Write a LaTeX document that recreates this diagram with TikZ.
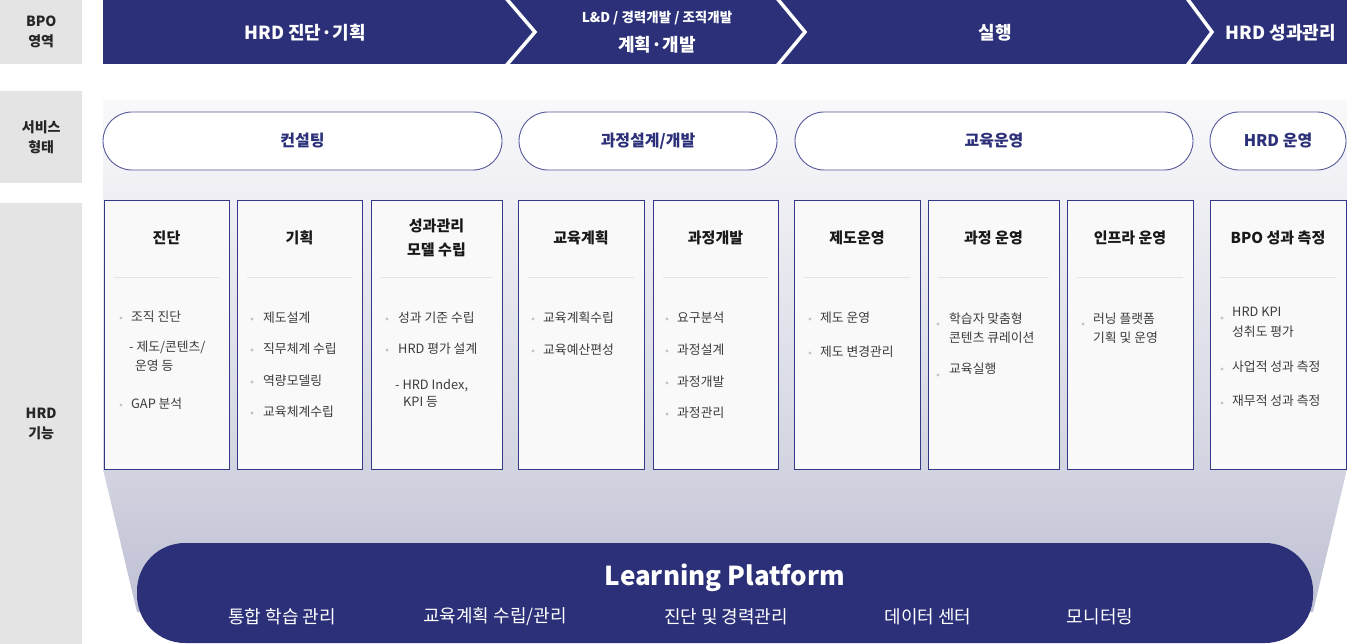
\documentclass[tikz,border=0pt]{standalone}
\usepackage{fontspec}
\setmainfont{Noto Sans CJK KR}
\usepackage{xcolor}
\usetikzlibrary{positioning,calc}
\definecolor{hrdNavy}{HTML}{2B3078}
\definecolor{hrdNavyLine}{HTML}{333985}
\definecolor{hrdPillLine}{HTML}{555A9C}
\definecolor{hrdSideGrey}{HTML}{E4E4E4}
\definecolor{hrdBoxFill}{HTML}{F9F9F9}
\definecolor{hrdRule}{HTML}{E4E4E4}
\definecolor{hrdItemText}{HTML}{3C3C3C}
\definecolor{hrdDot}{HTML}{C4C4C4}
\definecolor{hrdPanelTop}{HTML}{F9F9FB}
\definecolor{hrdPanelMid}{HTML}{D2D4E1}
\definecolor{hrdPanelBot}{HTML}{BEC0D4}
\tikzset{
  side label/.style={
    anchor=north west, fill=hrdSideGrey, minimum width=82pt,
    align=center, font=\fontsize{14}{20}\selectfont\bfseries,
    text=black!85, inner sep=0pt,
  },
  band text/.style={
    font=\fontsize{18}{20}\selectfont\bfseries, text=white, inner sep=0pt,
  },
  chevron gap/.style={
    draw=white, line width=3.5pt, line join=miter,
  },
  service pill/.style={
    draw=hrdPillLine, fill=white, line width=0.9pt,
    rounded corners=29pt, minimum height=58pt, inner sep=0pt,
    font=\fontsize{16}{18}\selectfont\bfseries, text=hrdNavy,
  },
  func box/.style={
    draw=hrdNavyLine, fill=hrdBoxFill, line width=0.9pt,
    minimum height=269pt, inner sep=0pt,
  },
  func title/.style={
    align=center, font=\fontsize{15}{24}\selectfont\bfseries,
    text=black!90, inner sep=0pt,
  },
  func rule/.style={
    draw=hrdRule, line width=0.9pt,
  },
  func item/.style={
    anchor=west, inner sep=0pt, text height=9.5pt, text depth=2.5pt,
    font=\fontsize{12.8}{15}\selectfont, text=hrdItemText,
  },
  func dot/.style={
    circle, fill=hrdDot, minimum size=3.2pt, inner sep=0pt,
  },
  platform/.style={
    fill=hrdNavy, rounded corners=48pt, minimum width=1176pt,
    minimum height=100pt, inner sep=0pt,
  },
  platform title/.style={
    font=\fontsize{26}{30}\selectfont\bfseries, text=white, inner sep=0pt,
  },
  platform item/.style={
    font=\fontsize{18}{20}\selectfont, text=white, inner sep=0pt,
  },
}

\begin{document}
\begin{tikzpicture}[x=1pt,y=-1pt]
\useasboundingbox (0,0) rectangle (1347,644);

% Row labels on the left
\foreach \nm/\yt/\hh/\txt in {bpo/0/64/{BPO\\영역}, svc/91/92/{서비스\\형태},
                              fn/203/441/{HRD\\기능}} {
  \node[side label, minimum height=\hh pt] (side-\nm) at (0,\yt) {\txt};
}

% BPO band with chevron cuts
\fill[hrdNavy] (103,0) rectangle (1347,64);
\foreach \xa/\xb in {505/535, 776/805, 1186/1212} {
  \draw[chevron gap] (\xa,-3) -- (\xb,32) -- (\xa,67);
}
\node[band text] (band-diag) at (305,33) {HRD 진단·기획};
\node[band text, font=\fontsize{13.5}{16}\selectfont\bfseries] (band-ld) at (657,18)
  {L\&D / 경력개발 / 조직개발};
\node[band text] (band-plan) at (657,45) {계획·개발};
\node[band text] (band-run) at (995,33) {실행};
\node[band text] (band-perf) at (1281,33) {HRD 성과관리};

% Background panel and funnel down to the platform
\shade[top color=hrdPanelTop, bottom color=hrdPanelMid]
  (103,101) rectangle (1347,470);
\shade[top color=hrdPanelMid, bottom color=hrdPanelBot]
  (103,469) -- (1347,469) -- (1313,612) -- (137,612) -- cycle;

% Service pills
\foreach \nm/\xa/\xb/\txt in {cons/103/502/컨설팅, design/519/777/{과정설계/개발},
                              ops/795/1193/교육운영, hrdops/1210/1346/{HRD 운영}} {
  \pgfmathsetmacro\pw{\xb-\xa}
  \pgfmathsetmacro\pc{(\xa+\xb)/2}
  \node[service pill, minimum width=\pw pt] (pill-\nm) at (\pc,141) {\txt};
}

% HRD function boxes (title + rule)
\foreach \nm/\xa/\xb/\ttl in {diag/104/229/진단, plan/237/362/기획,
    model/371/502/{성과관리\\모델 수립}, eduplan/518/644/교육계획,
    crsdev/653/778/과정개발, sysops/794/920/제도운영, crsops/928/1059/{과정 운영},
    infra/1067/1193/{인프라 운영}, bpo/1210/1346/{BPO 성과 측정}} {
  \pgfmathsetmacro\pw{\xb-\xa}
  \pgfmathsetmacro\pc{(\xa+\xb)/2}
  \node[func box, minimum width=\pw pt] (box-\nm) at (\pc,334.5) {};
  \node[func title] (title-\nm) at (\pc,238) {\ttl};
  \draw[func rule] ([xshift=10pt,yshift=-78pt]box-\nm.north west)
    -- ([xshift=-10pt,yshift=-78pt]box-\nm.north east);
}

% Item lines
\foreach \x/\y/\txt [count=\i] in {
    131/318/조직 진단, 129/348/{- 제도/콘텐츠/}, 135/367/운영 등, 131/405/GAP 분석,
    263/319/제도설계, 263/350/직무체계 수립, 263/382/역량모델링, 263/413/교육체계수립,
    398/319/성과 기준 수립, 398/350/HRD 평가 설계, 395/386/{- HRD Index,}, 403/403/KPI 등,
    543/319/교육계획수립, 543/351/교육예산편성,
    677/319/요구분석, 677/351/과정설계, 677/383/과정개발, 677/414/과정관리,
    820/319/제도 운영, 820/353/제도 변경관리,
    949/320/학습자 맞춤형, 949/339/콘텐츠 큐레이션, 949/370/교육실행,
    1093/320/러닝 플랫폼, 1093/339/기획 및 운영,
    1232/313/HRD KPI, 1232/333/성취도 평가, 1232/368/사업적 성과 측정,
    1232/402/재무적 성과 측정} {
  \node[func item] (item\i) at (\x,\y) {\txt};
}
% Bullet dots
\foreach \x/\y [count=\i] in {121/318, 121/405, 252/319, 252/350, 252/382, 252/413,
    387/319, 387/350, 533/319, 533/351, 667/319, 667/351, 667/383, 667/414,
    810/319, 810/353, 938/324, 938/375, 1083/324, 1222/318, 1222/369, 1222/403} {
  \node[func dot] (dot\i) at (\x,\y) {};
}

% Learning platform
\node[platform] (platform) at (725,593) {};
\node[platform title] (lp-title) at (725,578) {Learning Platform};
\foreach \x/\txt [count=\i] in {282/통합 학습 관리, 495/{교육계획 수립/관리},
                                726/진단 및 경력관리, 928/데이터 센터, 1100/모니터링} {
  \node[platform item] (lp-item\i) at (\x,617) {\txt};
}

\end{tikzpicture}
\end{document}
